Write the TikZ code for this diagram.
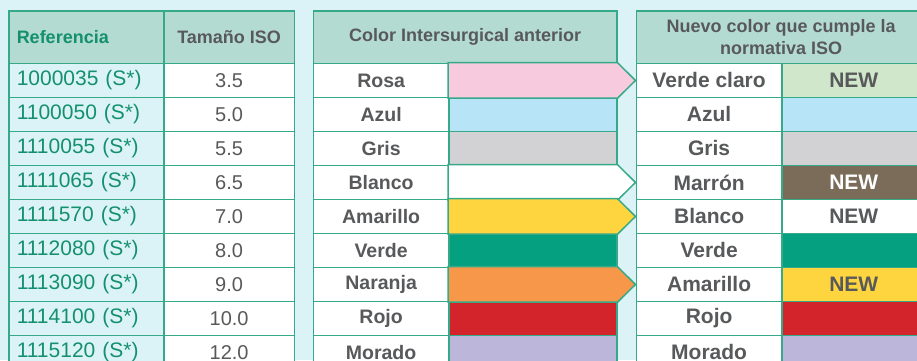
\documentclass[tikz,border=0pt]{standalone}
\usepackage{fontspec}
\setmainfont{Liberation Sans}
\definecolor{bg}{HTML}{DBF3F6}
\definecolor{headfill}{HTML}{B4DBD1}
\definecolor{tabline}{HTML}{36A988}
\definecolor{reftext}{HTML}{14906F}
\definecolor{txtgray}{HTML}{58595B}
\definecolor{rosa}{HTML}{F8CADE}
\definecolor{azul}{HTML}{B8E4F7}
\definecolor{gris}{HTML}{D2D2D4}
\definecolor{blanco}{HTML}{FFFFFF}
\definecolor{amarillo}{HTML}{FFD53F}
\definecolor{verde}{HTML}{04A07F}
\definecolor{naranja}{HTML}{F6974A}
\definecolor{rojo}{HTML}{D3242B}
\definecolor{morado}{HTML}{BBB6DA}
\definecolor{verdeclaro}{HTML}{D1E7CC}
\definecolor{marron}{HTML}{7B6B59}
\begin{document}
\begin{tikzpicture}[x=1pt, y=-1pt,
    cell/.style={draw=tabline, line width=1.5pt, inner sep=0pt, anchor=north west, minimum height=34pt, text=txtgray},
    head/.style={cell, fill=headfill, minimum height=52.7pt, align=center, font=\bfseries\fontsize{18}{22}\selectfont},
    refcell/.style={cell, fill=bg, text=reftext, minimum width=155pt, text width=139pt, inner xsep=8pt, align=left, font=\fontsize{21}{24}\selectfont},
    isocell/.style={cell, fill=white, minimum width=130.7pt, font=\fontsize{20}{24}\selectfont},
    oldname/.style={cell, fill=white, minimum width=135.3pt, font=\bfseries\fontsize{19.5}{24}\selectfont},
    oldcol/.style={cell, minimum width=168pt},
    newname/.style={cell, fill=white, minimum width=145.3pt, font=\bfseries\fontsize{21}{24}\selectfont},
    newcol/.style={cell, minimum width=144pt, font=\bfseries\fontsize{21}{24}\selectfont},
    arrowcell/.style={draw=tabline, line width=1.5pt}]
    \useasboundingbox (0,0) rectangle (917,360);
    \fill[bg] (0,0) rectangle (917,360);
    \node[head, text=reftext, minimum width=155pt, text width=139pt, inner xsep=8pt, align=left] (hRef) at (8,10) {Referencia};
    \node[head, minimum width=130.7pt] (hIso) at (163,10) {Tamaño ISO};
    \node[head, minimum width=303.3pt] (hOld) at (312.7,10) {Color Intersurgical anterior};
    \node[head, minimum width=289.3pt] (hNew) at (635.7,10) {Nuevo color que cumple la\\normativa ISO};
    \foreach \code/\iso [count=\i] in {1000035/3.5, 1100050/5.0, 1110055/5.5, 1111065/6.5, 1111570/7.0, 1112080/8.0, 1113090/9.0, 1114100/10.0, 1115120/12.0} {
        \node[refcell] (ref\i) at (8, {62.7+34*(\i-1)}) {\code\ (S*)};
        \node[isocell] (iso\i) at (163, {62.7+34*(\i-1)}) {\iso};
    }
    \foreach \name/\col [count=\i] in {Rosa/rosa, Azul/azul, Gris/gris, Blanco/blanco, Amarillo/amarillo, Verde/verde, Naranja/naranja, Rojo/rojo, Morado/morado} {
        \node[oldname] (old\i) at (312.7, {62.7+34*(\i-1)}) {\name};
        \node[oldcol, fill=\col] (oldc\i) at (448, {62.7+34*(\i-1)}) {};
    }
    \foreach \i/\col in {1/rosa, 4/blanco, 5/amarillo, 7/naranja} {
        \coordinate (tip\i) at ([xshift=18pt]oldc\i.east);
        \filldraw[arrowcell, fill=\col] (oldc\i.north west) -- (oldc\i.north east) -- (tip\i) -- (oldc\i.south east) -- (oldc\i.south west) -- cycle;
    }
    \foreach \name/\col/\tag/\tagcol [count=\i] in {Verde claro/verdeclaro/NEW/txtgray, Azul/azul//txtgray, Gris/gris//txtgray, Marrón/marron/NEW/white, Blanco/blanco/NEW/txtgray, Verde/verde//txtgray, Amarillo/amarillo/NEW/txtgray, Rojo/rojo//txtgray, Morado/morado//txtgray} {
        \node[newname] (new\i) at (635.7, {62.7+34*(\i-1)}) {\name};
        \node[newcol, fill=\col, text=\tagcol] (newc\i) at (781, {62.7+34*(\i-1)}) {\tag};
    }
\end{tikzpicture}
\end{document}
